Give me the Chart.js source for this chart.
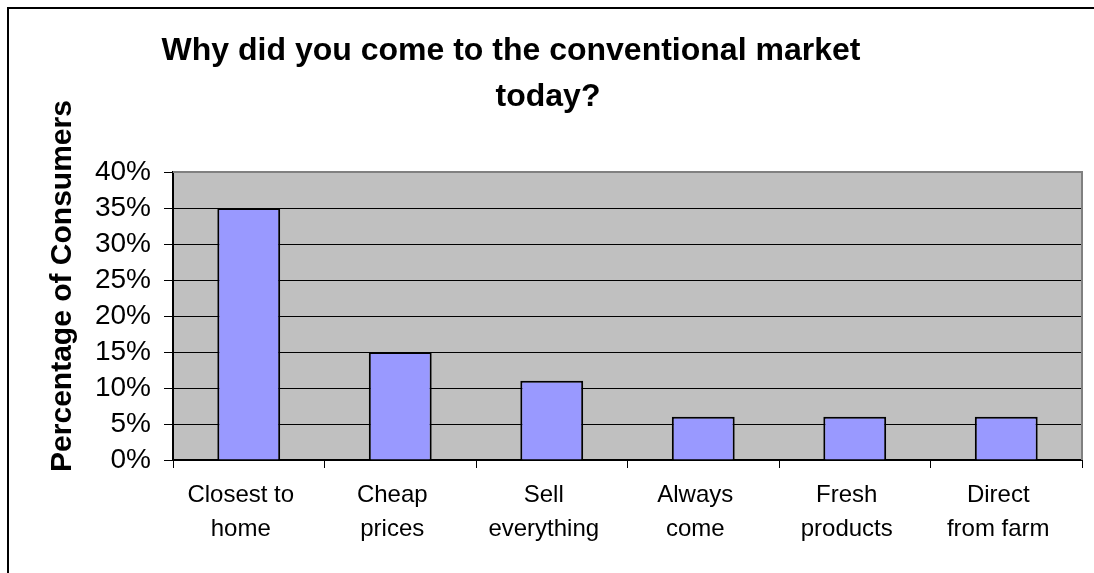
<!DOCTYPE html>
<html>
<head>
<meta charset="utf-8">
<script src="https://cdn.jsdelivr.net/npm/chart.js@4"></script>
<style>
    html, body { margin: 0; padding: 0; background: #fff; }
    canvas { display: block; }
</style>
</head>
<body>
<canvas id="grafico" width="1094" height="573"></canvas>
<script>
var categorias = [
    ['Closest to', 'home'],
    ['Cheap', 'prices'],
    ['Sell', 'everything'],
    ['Always', 'come'],
    ['Fresh', 'products'],
    ['Direct', 'from farm']
];
var percentuais = [35, 15, 11, 6, 6, 6];
var ticksY = [0, 5, 10, 15, 20, 25, 30, 35, 40];

var titulo = ['Why did you come to the conventional market', 'today?'];
var tituloEixoY = 'Percentage of Consumers';
var fonte = '"Liberation Sans", Arial, sans-serif';

// moldura, fundo cinza e titulos
var decoracao = {
    id: 'decoracao',
    beforeDraw: function (chart) {
        var ctx = chart.ctx;
        var a = chart.chartArea;
        ctx.save();
        ctx.fillStyle = '#fff';
        ctx.fillRect(0, 0, chart.width, chart.height);
        ctx.fillStyle = '#C0C0C0';
        ctx.fillRect(a.left, a.top, a.right - a.left, a.bottom - a.top);

        ctx.strokeStyle = '#000';
        ctx.lineWidth = 2;
        ctx.beginPath();
        ctx.moveTo(8, chart.height);
        ctx.lineTo(8, 8);
        ctx.lineTo(chart.width, 8);
        ctx.stroke();

        ctx.fillStyle = '#000';
        ctx.font = 'bold 32px ' + fonte;
        ctx.textAlign = 'center';
        ctx.textBaseline = 'alphabetic';
        ctx.fillText(titulo[0], 511, 60);
        ctx.fillText(titulo[1], 548, 106);

        ctx.translate(71, 286);
        ctx.rotate(-Math.PI / 2);
        ctx.font = 'bold 30px ' + fonte;
        ctx.fillText(tituloEixoY, 0, 0);
        ctx.restore();
    },
    beforeDatasetsDraw: function (chart) {
        var ctx = chart.ctx;
        var a = chart.chartArea;
        ctx.save();
        ctx.strokeStyle = '#808080';
        ctx.lineWidth = 2;
        ctx.beginPath();
        ctx.moveTo(a.left, a.top);
        ctx.lineTo(a.right, a.top);
        ctx.lineTo(a.right, a.bottom);
        ctx.stroke();
        ctx.restore();
    }
};

const ctx = document.getElementById('grafico');

new Chart(ctx, {
    type: 'bar',
    data: {
        labels: categorias,
        datasets: [{
            data: percentuais,
            backgroundColor: '#9999FF',
            borderColor: '#000',
            borderWidth: 2,
            barPercentage: 0.415,
            categoryPercentage: 1
        }]
    },
    options: {
        responsive: false,
        animation: false,
        layout: {
            padding: { left: 0, top: 172, right: 12, bottom: 0 }
        },
        plugins: {
            legend: { display: false },
            title: { display: false },
            tooltip: { enabled: false }
        },
        scales: {
            x: {
                afterFit: function (scale) { scale.height = 113; },
                grid: {
                    offset: true,
                    drawOnChartArea: false,
                    color: '#000',
                    tickLength: 8
                },
                border: { color: '#000', width: 2 },
                ticks: {
                    color: '#000',
                    font: { family: fonte, size: 24, lineHeight: 1.4 },
                    padding: 11,
                    labelOffset: -8,
                    maxRotation: 0,
                    autoSkip: false
                }
            },
            y: {
                min: 0,
                max: 40,
                afterFit: function (scale) { scale.width = 173; },
                afterBuildTicks: function (scale) {
                    scale.ticks = ticksY.map(function (v) { return { value: v }; });
                },
                grid: {
                    color: '#000',
                    lineWidth: 1,
                    tickLength: 9
                },
                border: { color: '#000', width: 2 },
                ticks: {
                    color: '#000',
                    font: { family: fonte, size: 28 },
                    padding: 13,
                    autoSkip: false,
                    callback: function (v) { return v + '%'; }
                }
            }
        }
    },
    plugins: [decoracao]
});
</script>
</body>
</html>
